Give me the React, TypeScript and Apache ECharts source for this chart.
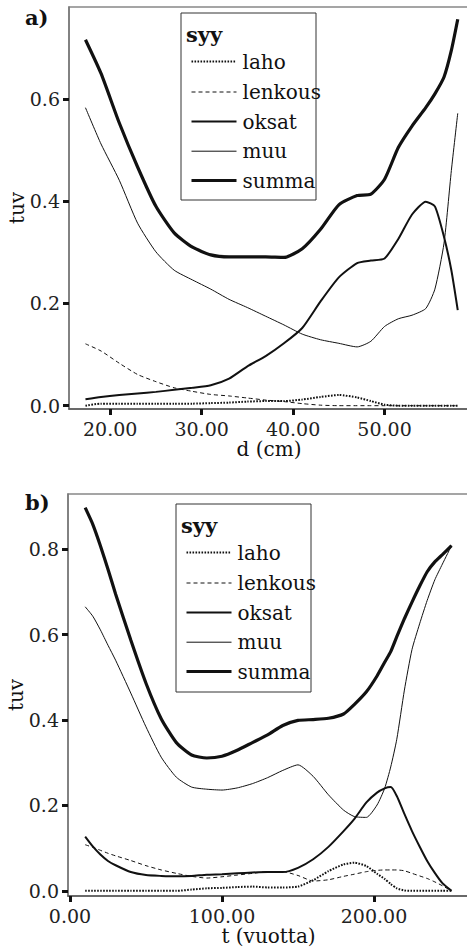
import React, { useEffect, useRef } from "react";
import * as echarts from "echarts";

const FONT = "DejaVu Serif";

// Panel a: d (cm)
const dValues = [17.3, 19, 21, 23, 25, 27, 29, 31, 33, 35, 37, 39, 41, 43, 45, 47, 48.5, 50, 51.5, 53, 54.5, 55.5, 56.5, 57.3, 58];
const aLaho = [0.0, 0.004, 0.004, 0.004, 0.004, 0.004, 0.004, 0.005, 0.006, 0.008, 0.009, 0.009, 0.012, 0.017, 0.021, 0.016, 0.009, 0.002, 0, 0, 0, 0, 0, 0, 0];
const aLenkous = [0.121, 0.107, 0.083, 0.061, 0.047, 0.035, 0.028, 0.022, 0.019, 0.015, 0.011, 0.008, 0.004, 0.001, 0, 0, 0, 0, 0, 0, 0, 0, 0, 0, 0];
const aOksat = [0.0125, 0.017, 0.021, 0.024, 0.027, 0.031, 0.035, 0.04, 0.053, 0.077, 0.097, 0.122, 0.152, 0.204, 0.251, 0.279, 0.284, 0.288, 0.326, 0.374, 0.399, 0.39, 0.33, 0.265, 0.187];
const aMuu = [0.583, 0.512, 0.441, 0.357, 0.301, 0.265, 0.246, 0.228, 0.208, 0.192, 0.175, 0.158, 0.14, 0.129, 0.122, 0.115, 0.126, 0.155, 0.17, 0.177, 0.19, 0.228, 0.318, 0.46, 0.572];
const aSumma = [0.716, 0.65, 0.553, 0.467, 0.39, 0.338, 0.31, 0.295, 0.291, 0.291, 0.291, 0.29, 0.307, 0.345, 0.393, 0.411, 0.414, 0.443, 0.505, 0.547, 0.583, 0.61, 0.643, 0.695, 0.756];

// Panel b: t (vuotta)
const tValues = [10, 15, 20, 25, 30, 40, 50, 60, 70, 80, 90, 100, 110, 120, 130, 140, 150, 160, 170, 180, 187, 195, 202, 207, 211, 215, 220, 225, 230, 235, 240, 245, 251];
const bLaho = [0, 0, 0, 0, 0, 0, 0, 0, 0, 0.003, 0.006, 0.007, 0.009, 0.01, 0.008, 0.008, 0.01, 0.025, 0.046, 0.062, 0.066, 0.058, 0.04, 0.028, 0.016, 0.006, 0.001, 0, 0, 0, 0, 0, 0];
const bLenkous = [0.108, 0.102, 0.095, 0.088, 0.082, 0.071, 0.059, 0.049, 0.041, 0.034, 0.03, 0.033, 0.037, 0.041, 0.045, 0.045, 0.036, 0.023, 0.026, 0.034, 0.039, 0.045, 0.048, 0.049, 0.049, 0.049, 0.047, 0.041, 0.035, 0.029, 0.021, 0.012, 0.0];
const bOksat = [0.127, 0.104, 0.085, 0.07, 0.06, 0.044, 0.037, 0.035, 0.034, 0.035, 0.038, 0.039, 0.041, 0.043, 0.044, 0.044, 0.054, 0.074, 0.103, 0.14, 0.168, 0.207, 0.23, 0.24, 0.243, 0.222, 0.18, 0.14, 0.104, 0.07, 0.042, 0.018, 0.0];
const bMuu = [0.665, 0.643, 0.611, 0.575, 0.54, 0.463, 0.384, 0.313, 0.266, 0.243, 0.238, 0.236, 0.241, 0.251, 0.265, 0.282, 0.295, 0.268, 0.225, 0.189, 0.174, 0.172, 0.201, 0.24, 0.29, 0.355, 0.47, 0.565, 0.625, 0.68, 0.728, 0.765, 0.808];
const bSumma = [0.897, 0.858, 0.808, 0.753, 0.695, 0.587, 0.486, 0.403, 0.347, 0.318, 0.311, 0.315, 0.329, 0.347, 0.365, 0.387, 0.399, 0.401, 0.404, 0.414, 0.436, 0.466, 0.503, 0.535, 0.56, 0.595, 0.637, 0.676, 0.713, 0.747, 0.77, 0.787, 0.808];

const seriesNames = ["laho", "lenkous", "oksat", "muu", "summa"];
const aTicksX = [20, 30, 40, 50];
const aTicksY = [0, 0.2, 0.4, 0.6];
const bTicksX = [0, 100, 200];
const bTicksY = [0, 0.2, 0.4, 0.6, 0.8];

const lineStyles: any[] = [
  { width: 2, type: [1.6, 1.4] },
  { width: 1, type: [4, 3] },
  { width: 2, type: "solid" },
  { width: 1, type: "solid" },
  { width: 3.2, type: "solid" },
];

function makeSeries(xs: number[], ys: number[][], idx: number) {
  return ys.map((vals, i) => ({
    type: "line",
    name: seriesNames[i],
    xAxisIndex: idx,
    yAxisIndex: idx,
    data: xs.map((x, j) => [x, vals[j]]),
    showSymbol: false,
    smooth: 0.2,
    lineStyle: { color: "#111", ...lineStyles[i] },
    z: 2,
  }));
}

function legendGraphic(left: number, top: number, h: number) {
  const offs = [48.5, 79, 108.5, 138.2, 167.5];
  const children: any[] = [
    {
      type: "rect",
      shape: { x: left, y: top, width: 135, height: h },
      style: { fill: "#fff", stroke: "#333", lineWidth: 1 },
    },
    {
      type: "text",
      x: left + 5,
      y: top + 21,
      style: { text: "syy", fontFamily: FONT, fontSize: 21, fontWeight: "bold", fill: "#111", verticalAlign: "middle" },
    },
  ];
  seriesNames.forEach((n, i) => {
    const ls = lineStyles[i];
    children.push({
      type: "line",
      shape: { x1: left + 10.5, y1: top + offs[i], x2: left + 55.5, y2: top + offs[i] },
      style: {
        stroke: "#111",
        lineWidth: ls.width,
        lineDash: Array.isArray(ls.type) ? ls.type : null,
      },
    });
    children.push({
      type: "text",
      x: left + 61.5,
      y: top + offs[i],
      style: { text: n, fontFamily: FONT, fontSize: 20, fill: "#111", verticalAlign: "middle" },
    });
  });
  return { type: "group", z: 100, children };
}

function xAxisCfg(idx: number, min: number, max: number, ticks: number[], name: string) {
  return {
    gridIndex: idx,
    type: "value",
    min,
    max,
    name,
    nameLocation: "middle",
    nameGap: 30,
    nameMoveOverlap: false,
    nameTextStyle: { fontFamily: FONT, fontSize: 20, color: "#111" },
    axisLine: { show: true, onZero: false, lineStyle: { color: "#555", width: 1.5 } },
    axisTick: { show: true, customValues: ticks, length: 6, lineStyle: { color: "#111", width: 3 } },
    axisLabel: {
      customValues: ticks,
      formatter: (v: number) => v.toFixed(2),
      fontFamily: FONT,
      fontSize: 19,
      color: "#222",
      margin: 10,
    },
    splitLine: { show: false },
  };
}

function yAxisCfg(idx: number, min: number, max: number, ticks: number[]) {
  return {
    gridIndex: idx,
    type: "value",
    min,
    max,
    name: "tuv",
    nameLocation: "middle",
    nameGap: 42,
    nameMoveOverlap: false,
    nameTextStyle: { fontFamily: FONT, fontSize: 20, color: "#111" },
    axisLine: { show: true, onZero: false, lineStyle: { color: "#777", width: 1.5 } },
    axisTick: { show: true, customValues: ticks, length: 6, lineStyle: { color: "#111", width: 3 } },
    axisLabel: {
      customValues: ticks,
      formatter: (v: number) => v.toFixed(1),
      fontFamily: FONT,
      fontSize: 19,
      color: "#222",
      margin: 9,
    },
    splitLine: { show: false },
  };
}

export default function App() {
  const ref = useRef<HTMLDivElement>(null);
  useEffect(() => {
    if (!ref.current) return;
    const chart = echarts.init(ref.current, null, { renderer: "svg" });
    chart.setOption({
      animation: false,
      backgroundColor: "#fff",
      textStyle: { fontFamily: FONT },
      grid: [
        { left: 69, top: 7, width: 400, height: 402, show: true, borderColor: "#888", borderWidth: 1.5, outerBoundsMode: "none", containLabel: false },
        { left: 68, top: 494, width: 401, height: 402, show: true, borderColor: "#888", borderWidth: 1.5, outerBoundsMode: "none", containLabel: false },
      ],
      xAxis: [
        xAxisCfg(0, 15.5, 59.23, aTicksX, "d (cm)"),
        xAxisCfg(1, -1.3, 262.5, bTicksX, "t (vuotta)"),
      ],
      yAxis: [yAxisCfg(0, -0.0065, 0.78, aTicksY), yAxisCfg(1, -0.012, 0.929, bTicksY)],
      series: [
        ...makeSeries(dValues, [aLaho, aLenkous, aOksat, aMuu, aSumma], 0),
        ...makeSeries(tValues, [bLaho, bLenkous, bOksat, bMuu, bSumma], 1),
      ],
      graphic: [
        {
          type: "text",
          x: 25,
          y: 17,
          style: { text: "a)", fontFamily: FONT, fontSize: 21, fontWeight: "bold", fill: "#111", verticalAlign: "middle" },
        },
        {
          type: "text",
          x: 25,
          y: 502,
          style: { text: "b)", fontFamily: FONT, fontSize: 21, fontWeight: "bold", fill: "#111", verticalAlign: "middle" },
        },
        legendGraphic(181, 13, 187),
        legendGraphic(176, 504, 188),
      ],
    });
    return () => chart.dispose();
  }, []);
  return (
    <div
      ref={ref}
      style={{ position: "fixed", left: 0, top: 0, width: 467, height: 949 }}
    />
  );
}
